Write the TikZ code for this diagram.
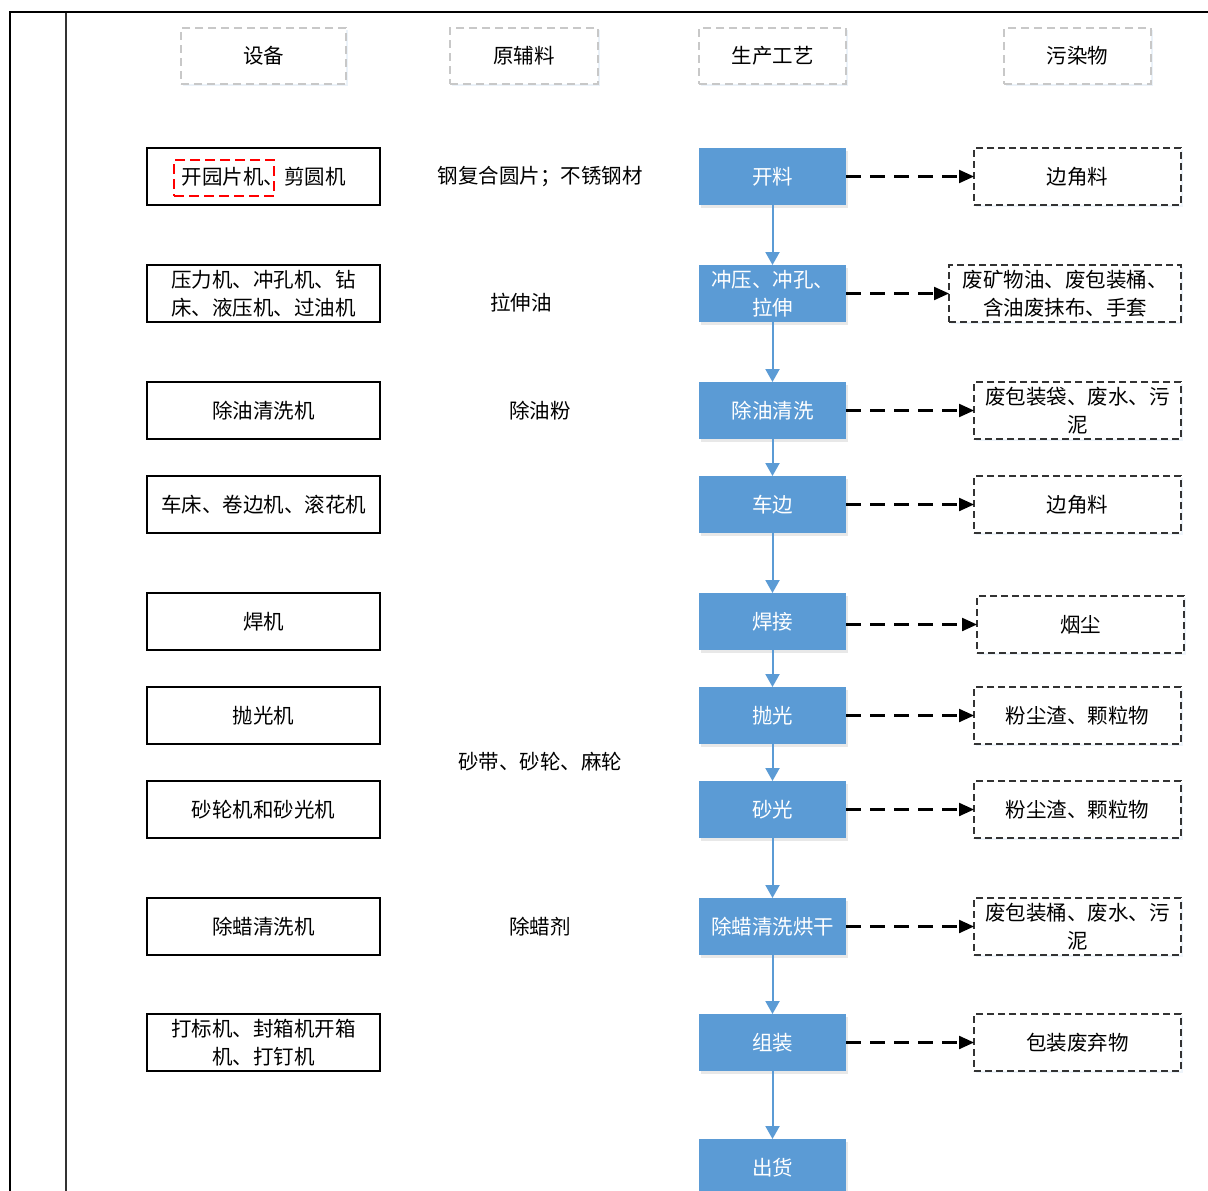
\documentclass[tikz,border=0pt]{standalone}
\usepackage{fontspec}
\newfontfamily\cjk{Noto Sans CJK SC}
\usetikzlibrary{arrows.meta,shadows}
\definecolor{procblue}{HTML}{5B9BD5}
\definecolor{hdrgray}{HTML}{C8C8C8}
\definecolor{polgray}{HTML}{333333}
\begin{document}
\begin{tikzpicture}[x=1pt,y=-1pt,
  every node/.style={font=\cjk\fontsize{20.5}{28}\selectfont, inner sep=0pt, outer sep=0pt, align=center},
  hdrbox/.style={draw=hdrgray, line width=1.4pt, dash pattern=on 8pt off 5pt, fill=white,
     minimum height=56pt, drop shadow={shadow xshift=1.5pt, shadow yshift=-2pt, opacity=0.12, fill=procblue}},
  equipbox/.style={draw=black, line width=1.4pt, fill=white, minimum width=233pt, minimum height=57pt},
  procbox/.style={fill=procblue, text=white, minimum width=147pt, minimum height=57pt,
     drop shadow={shadow xshift=2pt, shadow yshift=-2.5pt, opacity=0.18, fill=gray}},
  polbox/.style={draw=polgray, line width=1.3pt, dash pattern=on 7pt off 4pt, fill=white,
     minimum height=57pt, drop shadow={shadow xshift=1.5pt, shadow yshift=-2pt, opacity=0.10, fill=procblue}},
  mattext/.style={text=black},
  flowarrow/.style={draw=procblue, line width=2pt, -{Triangle[length=13pt,width=14pt]}},
  emitarrow/.style={draw=black, line width=2.2pt, dash pattern=on 15pt off 9pt, -{Triangle[length=15pt,width=13pt]}},
  redmark/.style={draw=red, line width=2.5pt, dash pattern=on 10pt off 5pt, minimum width=100pt, minimum height=36pt}
]
\useasboundingbox (0,0) rectangle (1208,1191);
\fill[white] (0,0) rectangle (1208,1191);

% frame
\coordinate (ftl) at (10,12);
\coordinate (ftr) at (1208,12);
\coordinate (fbl) at (10,1191);
\coordinate (itop) at (66,12);
\coordinate (ibot) at (66,1191);
\draw[line width=1.3pt, black!80] (itop) -- (ibot);
\draw[line width=2.6pt, black] (fbl) -- (ftl) -- (ftr);

% headers
\node[hdrbox, minimum width=165pt] (h1) at (263.5,56) {设备};
\node[hdrbox, minimum width=148pt] (h2) at (524,56) {原辅料};
\node[hdrbox, minimum width=147pt] (h3) at (772.5,56) {生产工艺};
\node[hdrbox, minimum width=147pt] (h4) at (1077.5,56) {污染物};

% equipment
\node[equipbox] (e1) at (263.5,176.5) {开园片机、剪圆机};
\node[redmark] (red) at (224,178) {};
\node[equipbox] (e2) at (263.5,293.5) {压力机、冲孔机、钻\\床、液压机、过油机};
\node[equipbox] (e3) at (263.5,410.5) {除油清洗机};
\node[equipbox] (e4) at (263.5,504.5) {车床、卷边机、滚花机};
\node[equipbox] (e5) at (263.5,621.5) {焊机};
\node[equipbox] (e6) at (263.5,715.5) {抛光机};
\node[equipbox] (e7) at (263.5,809.5) {砂轮机和砂光机};
\node[equipbox] (e8) at (263.5,926.5) {除蜡清洗机};
\node[equipbox] (e9) at (263.5,1042.5) {打标机、封箱机开箱\\机、打钉机};

% materials
\node[mattext] (m1) at (540,177) {钢复合圆片；不锈钢材};
\node[mattext] (m2) at (521,303) {拉伸油};
\node[mattext] (m3) at (540,410.5) {除油粉};
\node[mattext] (m4) at (540,762) {砂带、砂轮、麻轮};
\node[mattext] (m5) at (540,926.5) {除蜡剂};

% process
\node[procbox] (p1) at (772.5,176.5) {开料};
\node[procbox] (p2) at (772.5,293.5) {冲压、冲孔、\\拉伸};
\node[procbox] (p3) at (772.5,410.5) {除油清洗};
\node[procbox] (p4) at (772.5,504.5) {车边};
\node[procbox] (p5) at (772.5,621.5) {焊接};
\node[procbox] (p6) at (772.5,715.5) {抛光};
\node[procbox] (p7) at (772.5,809.5) {砂光};
\node[procbox] (p8) at (772.5,926.5) {除蜡清洗烘干};
\node[procbox] (p9) at (772.5,1042.5) {组装};
\node[procbox] (p10) at (772.5,1167.5) {出货};

% pollutants
\node[polbox, minimum width=207pt] (o1) at (1077.5,176.5) {边角料};
\node[polbox, minimum width=232pt] (o2) at (1065,293.5) {废矿物油、废包装桶、\\含油废抹布、手套};
\node[polbox, minimum width=207pt] (o3) at (1077.5,410.5) {废包装袋、废水、污\\泥};
\node[polbox, minimum width=207pt] (o4) at (1077.5,504.5) {边角料};
\node[polbox, minimum width=207pt] (o5) at (1080.5,624.5) {烟尘};
\node[polbox, minimum width=207pt] (o6) at (1077.5,715.5) {粉尘渣、颗粒物};
\node[polbox, minimum width=207pt] (o7) at (1077.5,809.5) {粉尘渣、颗粒物};
\node[polbox, minimum width=207pt] (o8) at (1077.5,926.5) {废包装桶、废水、污\\泥};
\node[polbox, minimum width=207pt] (o9) at (1077.5,1042.5) {包装废弃物};

% flow arrows
\foreach \a/\b in {p1/p2,p2/p3,p3/p4,p4/p5,p5/p6,p6/p7,p7/p8,p8/p9,p9/p10}
  \draw[flowarrow] (\a.south) -- (\b.north);

% emission arrows
\foreach \i in {1,2,3,4,5,6,7,8,9}
  \draw[emitarrow] (p\i.east |- o\i.west) -- (o\i.west);
\end{tikzpicture}
\end{document}
